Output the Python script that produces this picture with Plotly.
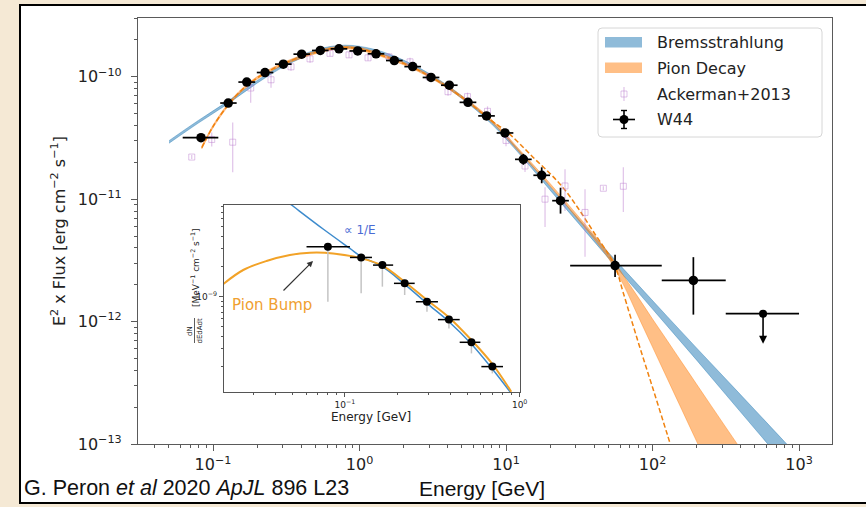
import math
import plotly.graph_objects as go

# ---------------------------------------------------------------------------
# W44 gamma-ray SED (E^2 x Flux, erg cm^-2 s^-1) versus energy (GeV)
# ---------------------------------------------------------------------------
w44_energy = [0.0828, 0.127, 0.170, 0.2265, 0.302, 0.403, 0.540, 0.724, 0.972, 1.296,
              1.728, 2.307, 3.076, 4.10, 5.50, 7.36, 9.84, 13.13, 17.52, 23.55, 55.5, 190.0]
w44_energy_lo = [0.0621, 0.112, 0.149, 0.199, 0.265, 0.354, 0.474, 0.635, 0.853, 1.137,
                 1.516, 2.024, 2.698, 3.60, 4.82, 6.46, 8.63, 11.52, 15.37, 20.66, 27.4, 115.6]
w44_energy_hi = [0.1087, 0.145, 0.194, 0.258, 0.344, 0.459, 0.615, 0.825, 1.108, 1.477,
                 1.970, 2.630, 3.507, 4.67, 6.27, 8.39, 11.22, 14.97, 19.97, 26.85, 115.6, 316.0]
w44_flux = [3.18e-11, 6.10e-11, 9.05e-11, 1.083e-10, 1.268e-10, 1.53e-10, 1.64e-10, 1.69e-10,
            1.625e-10, 1.54e-10, 1.357e-10, 1.21e-10, 9.87e-11, 8.53e-11, 6.18e-11, 4.79e-11,
            3.475e-11, 2.115e-11, 1.567e-11, 9.72e-12, 2.87e-12, 2.17e-12]
w44_flux_lo = [3.01e-11, 5.77e-11, 8.55e-11, 1.024e-10, 1.198e-10, 1.446e-10, 1.55e-10, 1.597e-10,
               1.536e-10, 1.456e-10, 1.283e-10, 1.144e-10, 9.33e-11, 8.06e-11, 5.73e-11, 4.44e-11,
               3.22e-11, 1.909e-11, 1.349e-11, 7.62e-12, 2.31e-12, 1.14e-12]
w44_flux_hi = [3.36e-11, 6.45e-11, 9.57e-11, 1.146e-10, 1.342e-10, 1.619e-10, 1.735e-10, 1.788e-10,
               1.719e-10, 1.629e-10, 1.436e-10, 1.280e-10, 1.044e-10, 9.02e-11, 6.66e-11, 5.16e-11,
               3.75e-11, 2.343e-11, 1.821e-11, 1.240e-11, 3.51e-12, 3.36e-12]

# highest-energy bin: upper limit
w44_ul_energy = [568.0]
w44_ul_energy_lo = [316.0]
w44_ul_energy_hi = [1000.0]
w44_ul_flux = [1.16e-12]
w44_ul_arrow_end = [6.6e-13]

# Ackermann et al. 2013 points
ack_energy = [0.0716, 0.098, 0.1363, 0.1808, 0.2488, 0.3406, 0.4594, 0.6288, 0.848, 1.143,
              1.590, 2.212, 2.981, 4.018, 5.461, 7.475, 10.0, 13.48, 18.46, 25.27, 34.61,
              46.15, 63.2]
ack_flux = [2.208e-11, 3.075e-11, 2.92e-11, 8.09e-11, 9.45e-11, 1.206e-10, 1.40e-10, 1.553e-10,
            1.51e-10, 1.427e-10, 1.454e-10, 1.324e-10, 1.0e-10, 7.55e-11, 6.88e-11, 5.22e-11,
            3.02e-11, 1.866e-11, 1.0e-11, 1.282e-11, 7.79e-12, 1.228e-11, 1.275e-11]
ack_flux_lo = [2.127e-11, 2.697e-11, 1.658e-11, 6.14e-11, 8.14e-11, 1.119e-10, 1.299e-10, 1.468e-10,
               1.427e-10, 1.349e-10, 1.349e-10, 1.228e-10, 9.28e-11, 7.00e-11, 6.38e-11, 4.75e-11,
               2.70e-11, 1.668e-11, 5.92e-12, 7.99e-12, 3.38e-12, 1.183e-11, 7.84e-12]
ack_flux_hi = [2.292e-11, 3.505e-11, 4.23e-11, 9.45e-11, 1.078e-10, 1.30e-10, 1.509e-10, 1.643e-10,
               1.598e-10, 1.510e-10, 1.567e-10, 1.427e-10, 1.078e-10, 8.14e-11, 7.42e-11, 5.73e-11,
               3.38e-11, 2.088e-11, 1.252e-11, 1.753e-11, 1.206e-11, 1.275e-11, 1.82e-11]

# Model bands, sampled as log10(E / GeV) and log10(E^2 F) lower / upper edges
brems_log_e = [-1.3, -1.1, -0.9, -0.7, -0.5, -0.3, -0.1, 0.1, 0.3, 0.5, 0.7, 0.9, 1.1,
               1.3, 1.5, 1.7, 1.9, 2.1, 2.3, 2.5, 2.7, 2.9, 3.1]
brems_log_lo = [-10.543, -10.378, -10.222, -10.053, -9.907, -9.803, -9.763, -9.797, -9.885,
                -10.013, -10.179, -10.384, -10.642, -10.925, -11.205, -11.483, -11.759,
                -12.036, -12.313, -12.596, -12.878, -13.159, -13.439]
brems_log_hi = [-10.522, -10.357, -10.201, -10.032, -9.885, -9.781, -9.742, -9.776, -9.864,
                -9.992, -10.158, -10.363, -10.618, -10.896, -11.169, -11.437, -11.698,
                -11.958, -12.215, -12.469, -12.724, -12.980, -13.236]

pion_log_e = [-1.077, -1.0, -0.9, -0.8, -0.7, -0.6, -0.5, -0.4, -0.3, -0.2, -0.1, 0.0, 0.1,
              0.3, 0.5, 0.7, 0.9, 1.1, 1.3, 1.5, 1.6, 1.7, 1.8, 1.9, 2.0, 2.1, 2.2, 2.3,
              2.4, 2.5, 2.6]
pion_log_lo = [-10.590, -10.417, -10.246, -10.115, -10.021, -9.951, -9.894, -9.850, -9.813,
               -9.783, -9.771, -9.783, -9.816, -9.902, -10.020, -10.178, -10.369, -10.628,
               -10.892, -11.178, -11.324, -11.485, -11.696, -11.952, -12.208, -12.464,
               -12.720, -12.976, -13.232, -13.489, -13.742]
pion_log_hi = [-10.569, -10.396, -10.224, -10.094, -10.000, -9.930, -9.873, -9.828, -9.792,
               -9.762, -9.750, -9.762, -9.794, -9.881, -9.999, -10.157, -10.348, -10.607,
               -10.871, -11.149, -11.289, -11.439, -11.621, -11.798, -11.979, -12.155,
               -12.333, -12.510, -12.687, -12.863, -13.038]

pion_alt_log_e = [-1.077, -1.0, -0.9, -0.8, -0.7, -0.6, -0.5, -0.4, -0.3, -0.2, -0.1, 0.0,
                  0.1, 0.3, 0.5, 0.7, 0.9, 1.0, 1.1, 1.2, 1.3, 1.4, 1.5, 1.6, 1.7, 1.75,
                  1.8, 1.9, 2.0, 2.1, 2.15]
pion_alt_log_f = [-10.580, -10.407, -10.235, -10.104, -10.011, -9.941, -9.884, -9.839, -9.802,
                  -9.772, -9.760, -9.772, -9.805, -9.891, -10.010, -10.168, -10.359, -10.444,
                  -10.555, -10.676, -10.790, -10.922, -11.088, -11.272, -11.453, -11.565,
                  -11.764, -12.159, -12.537, -12.919, -13.110]

# Inset: low-energy differential spectrum dN/dE (MeV^-1 cm^-2 s^-1)
inset_energy = [0.080, 0.124, 0.164, 0.220, 0.295, 0.394, 0.530, 0.698]
inset_energy_lo = [0.0604, 0.107, 0.145, 0.191, 0.255, 0.341, 0.454, 0.604]
inset_energy_hi = [0.107, 0.143, 0.189, 0.251, 0.341, 0.454, 0.596, 0.803]
inset_flux = [3.16e-9, 2.47e-9, 2.07e-9, 1.36e-9, 8.9e-10, 5.9e-10, 3.5e-10, 2.0e-10]
inset_flux_sys_lo = [8.9e-10, 1.08e-9, 1.26e-9, 1.04e-9, 7.08e-10, 4.82e-10, 2.71e-10, 1.71e-10]

inset_brems_log_e = [-1.33, -1.305, -1.124, -0.971, -0.905, -0.785, -0.657, -0.530, -0.404,
                     -0.276, -0.156, -0.048]
inset_brems_log_f = [-8.05, -8.083, -8.323, -8.517, -8.600, -8.700, -8.877, -9.067, -9.250,
                     -9.473, -9.723, -9.967]
inset_pion_log_e = [-1.70, -1.581, -1.448, -1.314, -1.2, -1.067, -0.905, -0.785, -0.657,
                    -0.530, -0.404, -0.276, -0.156, -0.048]
inset_pion_log_f = [-8.88, -8.733, -8.643, -8.583, -8.56, -8.567, -8.617, -8.69, -8.853,
                    -9.033, -9.207, -9.433, -9.673, -9.95]

# axis tick labels
main_x_ticks = [0.1, 1, 10, 100, 1000]
main_x_ticktext = ["10<sup>\u22121</sup>", "10<sup>0</sup>", "10<sup>1</sup>",
                   "10<sup>2</sup>", "10<sup>3</sup>"]
main_y_ticks = [1e-13, 1e-12, 1e-11, 1e-10]
main_y_ticktext = ["10<sup>\u221213</sup>", "10<sup>\u221212</sup>",
                   "10<sup>\u221211</sup>", "10<sup>\u221210</sup>"]
inset_x_ticks = [0.1, 1]
inset_x_ticktext = ["10<sup>\u22121</sup>", "10<sup>0</sup>"]
inset_y_ticks = [1e-9]
inset_y_ticktext = ["10<sup>\u22129</sup>"]

# ---------------------------------------------------------------------------
# page geometry (pixels) and helpers
# ---------------------------------------------------------------------------
W, H = 866, 507
L, R, T, B = 138, 832, 18, 444
FONT = "DejaVu Sans"
CAPTION_FONT = "Liberation Sans"


def px(x):
    return (x - L) / (R - L)


def py(y):
    return (B - y) / (B - T)


def pow10(vals):
    return [10 ** v for v in vals]


def minor_vals(lo_exp, hi_exp):
    return [k * 10.0 ** d for d in range(lo_exp, hi_exp + 1) for k in range(2, 10)]


BLUE_BAND = "rgba(31,119,180,0.5)"
ORANGE_BAND = "rgba(255,127,14,0.5)"
ACK = "rgba(185,120,205,0.45)"

fig = go.Figure()

# Bremsstrahlung band
fig.add_trace(go.Scatter(x=pow10(brems_log_e), y=pow10(brems_log_lo), mode="lines",
                         line=dict(color=BLUE_BAND, width=0.8, shape="spline"),
                         hoverinfo="skip", showlegend=False))
fig.add_trace(go.Scatter(x=pow10(brems_log_e), y=pow10(brems_log_hi), mode="lines",
                         fill="tonexty", fillcolor=BLUE_BAND,
                         line=dict(color=BLUE_BAND, width=0.8, shape="spline"),
                         name="Bremsstrahlung", showlegend=False))
# Pion decay band
fig.add_trace(go.Scatter(x=pow10(pion_log_e), y=pow10(pion_log_lo), mode="lines",
                         line=dict(color=ORANGE_BAND, width=0.8, shape="spline"),
                         hoverinfo="skip", showlegend=False))
fig.add_trace(go.Scatter(x=pow10(pion_log_e), y=pow10(pion_log_hi), mode="lines",
                         fill="tonexty", fillcolor=ORANGE_BAND,
                         line=dict(color=ORANGE_BAND, width=0.8, shape="spline"),
                         name="Pion Decay", showlegend=False))
fig.add_trace(go.Scatter(x=pow10(pion_alt_log_e), y=pow10(pion_alt_log_f), mode="lines",
                         line=dict(color="#f0820f", width=1.5, dash="5px,2.6px", shape="spline"),
                         showlegend=False))

# Ackermann et al. 2013
fig.add_trace(go.Scatter(
    x=ack_energy, y=ack_flux, mode="markers",
    marker=dict(symbol="square-open", size=6, color=ACK, line=dict(width=1, color=ACK)),
    error_y=dict(type="data", symmetric=False,
                 array=[h - f for h, f in zip(ack_flux_hi, ack_flux)],
                 arrayminus=[f - l for f, l in zip(ack_flux, ack_flux_lo)],
                 color=ACK, thickness=1.2, width=0),
    name="Ackerman+2013", showlegend=False))

# W44 points
fig.add_trace(go.Scatter(
    x=w44_energy, y=w44_flux, mode="markers",
    marker=dict(symbol="circle", size=9.5, color="black"),
    error_x=dict(type="data", symmetric=False,
                 array=[h - e for h, e in zip(w44_energy_hi, w44_energy)],
                 arrayminus=[e - l for e, l in zip(w44_energy, w44_energy_lo)],
                 color="black", thickness=1.7, width=0),
    error_y=dict(type="data", symmetric=False,
                 array=[h - f for h, f in zip(w44_flux_hi, w44_flux)],
                 arrayminus=[f - l for f, l in zip(w44_flux, w44_flux_lo)],
                 color="black", thickness=1.7, width=0),
    name="W44", showlegend=False))
fig.add_trace(go.Scatter(
    x=w44_ul_energy, y=w44_ul_flux, mode="markers",
    marker=dict(symbol="circle", size=8, color="black"),
    error_x=dict(type="data", symmetric=False,
                 array=[w44_ul_energy_hi[0] - w44_ul_energy[0]],
                 arrayminus=[w44_ul_energy[0] - w44_ul_energy_lo[0]],
                 color="black", thickness=1.7, width=0),
    showlegend=False))

# ---------------- inset ----------------
fig.add_trace(go.Scatter(x=pow10(inset_brems_log_e), y=pow10(inset_brems_log_f), mode="lines",
                         line=dict(color="#3d8bcd", width=1.5, shape="spline"),
                         xaxis="x2", yaxis="y2", showlegend=False))
fig.add_trace(go.Scatter(x=pow10(inset_pion_log_e), y=pow10(inset_pion_log_f), mode="lines",
                         line=dict(color="#f2a227", width=2, shape="spline"),
                         xaxis="x2", yaxis="y2", showlegend=False))
fig.add_trace(go.Scatter(
    x=inset_energy, y=inset_flux, mode="markers",
    marker=dict(size=0.1, color="rgba(0,0,0,0)"),
    error_y=dict(type="data", symmetric=False, array=[0] * len(inset_flux),
                 arrayminus=[f - l for f, l in zip(inset_flux, inset_flux_sys_lo)],
                 color="#c4c4c4", thickness=1.5, width=0),
    xaxis="x2", yaxis="y2", showlegend=False))
fig.add_trace(go.Scatter(
    x=inset_energy, y=inset_flux, mode="markers",
    marker=dict(symbol="circle", size=8, color="black"),
    error_x=dict(type="data", symmetric=False,
                 array=[h - e for h, e in zip(inset_energy_hi, inset_energy)],
                 arrayminus=[e - l for e, l in zip(inset_energy, inset_energy_lo)],
                 color="black", thickness=1.5, width=0),
    xaxis="x2", yaxis="y2", showlegend=False))

AX = "#5a5a5a"
fig.update_layout(
    width=W, height=H,
    margin=dict(l=L, r=W - R, t=T, b=H - B, pad=0),
    paper_bgcolor="#f5e9d5",
    plot_bgcolor="rgba(0,0,0,0)",
    font=dict(family=FONT, color="#222"),
    showlegend=False,
    xaxis=dict(type="log", range=[-1.512, 3.225], domain=[0, 1],
               showline=True, mirror=True, linecolor=AX, linewidth=1.2,
               ticks="outside", ticklen=6, tickcolor=AX, tickwidth=1.2,
               tickvals=main_x_ticks, ticktext=main_x_ticktext,
               tickfont=dict(size=16, family=FONT, color="#222"),
               showgrid=False, zeroline=False,
               minor=dict(tickvals=minor_vals(-2, 3), ticks="outside", ticklen=3,
                          tickcolor=AX, tickwidth=1, showgrid=False)),
    yaxis=dict(type="log", range=[-13, -9.52], domain=[0, 1],
               showline=True, mirror=True, linecolor=AX, linewidth=1.2,
               ticks="outside", ticklen=6, tickcolor=AX, tickwidth=1.2,
               tickvals=main_y_ticks, ticktext=main_y_ticktext,
               tickfont=dict(size=16, family=FONT, color="#222"),
               ticklabelstandoff=6,
               showgrid=False, zeroline=False,
               minor=dict(tickvals=minor_vals(-14, -10), ticks="outside", ticklen=3,
                          tickcolor=AX, tickwidth=1, showgrid=False)),
    xaxis2=dict(type="log", range=[-1.691, 0.002], domain=[px(224), px(520)], anchor="y2",
                showline=True, mirror=True, linecolor="#555", linewidth=1.2,
                ticks="outside", ticklen=4, tickcolor="#555",
                tickvals=inset_x_ticks, ticktext=inset_x_ticktext,
                tickfont=dict(size=9, family=FONT, color="#222"),
                showgrid=False, zeroline=False,
                minor=dict(tickvals=minor_vals(-2, 0), ticks="outside", ticklen=2,
                           tickcolor="#555", showgrid=False)),
    yaxis2=dict(type="log", range=[-9.953, -8.083], domain=[py(392), py(205)], anchor="x2",
                showline=True, mirror=True, linecolor="#555", linewidth=1.2,
                ticks="outside", ticklen=4, tickcolor="#555",
                tickvals=inset_y_ticks, ticktext=inset_y_ticktext,
                tickfont=dict(size=9, family=FONT, color="#222"),
                showgrid=False, zeroline=False,
                minor=dict(tickvals=minor_vals(-10, -9), ticks="outside", ticklen=2,
                           tickcolor="#555", showgrid=False)),
)

shapes = []
# white page with black frame
shapes.append(dict(type="rect", xref="paper", yref="paper", x0=px(20), x1=px(872),
                   y0=py(503), y1=py(5), line=dict(color="black", width=2),
                   fillcolor="white", layer="below"))
# inset background
shapes.append(dict(type="rect", xref="paper", yref="paper", x0=px(224), x1=px(520),
                   y0=py(392), y1=py(205), line=dict(width=0), fillcolor="white",
                   layer="below"))

# legend frame with rounded corners
lx0, lx1, ly0, ly1, rad = 598, 822, 28, 137, 4
pts = [("M", lx0 + rad, ly0), ("L", lx1 - rad, ly0), ("Q", lx1, ly0, lx1, ly0 + rad),
       ("L", lx1, ly1 - rad), ("Q", lx1, ly1, lx1 - rad, ly1), ("L", lx0 + rad, ly1),
       ("Q", lx0, ly1, lx0, ly1 - rad), ("L", lx0, ly0 + rad), ("Q", lx0, ly0, lx0 + rad, ly0)]
path = ""
for p in pts:
    if p[0] == "Q":
        path += f"Q{px(p[1])},{py(p[2])} {px(p[3])},{py(p[4])} "
    else:
        path += f"{p[0]}{px(p[1])},{py(p[2])} "
path += "Z"
shapes.append(dict(type="path", xref="paper", yref="paper", path=path,
                   line=dict(color="#d6d6d6", width=1), fillcolor="rgba(255,255,255,0.85)",
                   layer="above"))
# legend handles
shapes.append(dict(type="rect", xref="paper", yref="paper", x0=px(605), x1=px(642),
                   y0=py(47.5), y1=py(37), line=dict(width=0), fillcolor=BLUE_BAND, layer="above"))
shapes.append(dict(type="rect", xref="paper", yref="paper", x0=px(605), x1=px(642),
                   y0=py(73), y1=py(62.5), line=dict(width=0), fillcolor=ORANGE_BAND, layer="above"))
shapes.append(dict(type="line", xref="paper", yref="paper", x0=px(624), x1=px(624),
                   y0=py(101), y1=py(87), line=dict(color=ACK, width=1.2), layer="above"))
shapes.append(dict(type="rect", xref="paper", yref="paper", x0=px(621), x1=px(627),
                   y0=py(97), y1=py(91), line=dict(color=ACK, width=1),
                   fillcolor="rgba(255,255,255,0)", layer="above"))
shapes.append(dict(type="line", xref="paper", yref="paper", x0=px(613), x1=px(635),
                   y0=py(119.5), y1=py(119.5), line=dict(color="black", width=1.6), layer="above"))
shapes.append(dict(type="line", xref="paper", yref="paper", x0=px(624), x1=px(624),
                   y0=py(110.5), y1=py(128.5), line=dict(color="black", width=1.6), layer="above"))
for yc in (110.5, 128.5):
    shapes.append(dict(type="line", xref="paper", yref="paper", x0=px(621), x1=px(627),
                       y0=py(yc), y1=py(yc), line=dict(color="black", width=1.4), layer="above"))
shapes.append(dict(type="circle", xref="paper", yref="paper", x0=px(619.5), x1=px(628.5),
                   y0=py(124), y1=py(115), line=dict(width=0), fillcolor="black", layer="above"))

# fraction bar in the inset y label
shapes.append(dict(type="line", xref="paper", yref="paper", x0=px(194.5), x1=px(194.5),
                   y0=py(343), y1=py(318), line=dict(color="#333", width=0.8)))
fig.update_layout(shapes=shapes)

ann = []
legend_rows = [("Bremsstrahlung", 42.5), ("Pion Decay", 68), ("Ackerman+2013", 94), ("W44", 119.5)]
for text, yc in legend_rows:
    ann.append(dict(text=text, xref="paper", yref="paper", x=px(655), y=py(yc),
                    xanchor="left", yanchor="middle", showarrow=False,
                    font=dict(size=16, family=FONT, color="#222")))

# axis titles
ann.append(dict(text="E<sup>2</sup> x Flux [erg cm<sup>\u22122</sup> s<sup>\u22121</sup>]",
                xref="paper", yref="paper", x=px(58), y=py(231), textangle=-90,
                showarrow=False, xanchor="center", yanchor="middle",
                font=dict(size=16, family=FONT, color="#222")))
ann.append(dict(text="Energy [GeV]", xref="paper", yref="paper", x=px(417), y=py(488),
                showarrow=False, xanchor="left", yanchor="middle",
                font=dict(size=21, family=CAPTION_FONT, color="#111")))
ann.append(dict(text="G. Peron <i>et al</i> 2020 <i>ApJL</i> 896 L23",
                xref="paper", yref="paper", x=px(22), y=py(488), showarrow=False,
                xanchor="left", yanchor="middle",
                font=dict(size=21.5, family=CAPTION_FONT, color="#111")))

# inset labels
ann.append(dict(text="Energy [GeV]", xref="paper", yref="paper", x=px(371), y=py(417),
                showarrow=False, xanchor="center", yanchor="middle",
                font=dict(size=12, family=FONT, color="#222")))
ann.append(dict(text="[MeV<sup>\u22121</sup> cm<sup>\u22122</sup> s<sup>\u22121</sup>]",
                xref="paper", yref="paper", x=px(195), y=py(268), textangle=-90,
                showarrow=False, xanchor="center", yanchor="middle",
                font=dict(size=9, family=FONT, color="#222")))
ann.append(dict(text="dN", xref="paper", yref="paper", x=px(190), y=py(331), textangle=-90,
                showarrow=False, xanchor="center", yanchor="middle",
                font=dict(size=7, family=FONT, color="#222")))
ann.append(dict(text="dEdAdt", xref="paper", yref="paper", x=px(199.5), y=py(331),
                textangle=-90, showarrow=False, xanchor="center", yanchor="middle",
                font=dict(size=7, family=FONT, color="#222")))
ann.append(dict(text="\u221d 1/E", xref="paper", yref="paper", x=px(342), y=py(230),
                showarrow=False, xanchor="left", yanchor="middle",
                font=dict(size=12, family=FONT, color="#4a6bd4")))
ann.append(dict(text="Pion Bump", xref="paper", yref="paper", x=px(230), y=py(305),
                showarrow=False, xanchor="left", yanchor="middle",
                font=dict(size=15, family=FONT, color="#f0a030")))
ann.append(dict(text="", xref="paper", yref="paper", x=px(313), y=py(261),
                axref="pixel", ayref="pixel", ax=-31, ay=31, showarrow=True,
                arrowhead=2, arrowsize=1, arrowwidth=1.2, arrowcolor="#333"))

# upper-limit arrow for the last bin
ann.append(dict(text="", xref="x", yref="y",
                x=math.log10(w44_ul_energy[0]), y=math.log10(w44_ul_arrow_end[0]),
                axref="x", ayref="y",
                ax=math.log10(w44_ul_energy[0]), ay=math.log10(w44_ul_flux[0]),
                showarrow=True, arrowhead=2, arrowsize=1, arrowwidth=1.6,
                arrowcolor="black"))
fig.update_layout(annotations=ann)

fig.write_html("out.html")
